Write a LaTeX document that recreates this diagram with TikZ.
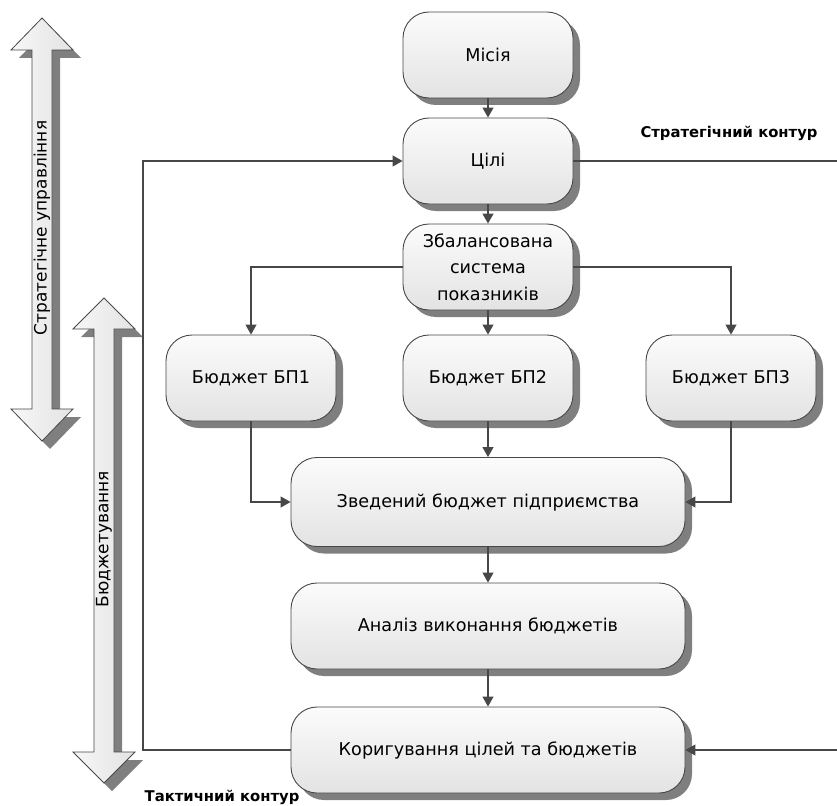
\documentclass[tikz,border=0pt]{standalone}
\usepackage{fontspec}
\setmainfont{DejaVu Sans}
\usetikzlibrary{arrows.meta,shadows}
\definecolor{lnc}{HTML}{474747}
\definecolor{shd}{HTML}{7F7F7F}
\tikzset{
  box/.style={rounded corners=26pt, draw=lnc, line width=0.9pt,
    top color=gray!3, bottom color=gray!22,
    drop shadow={shadow xshift=7pt, shadow yshift=-7pt, fill=shd, opacity=1},
    minimum width=170pt, minimum height=86pt, inner sep=0pt,
    align=center, font=\fontsize{17.6}{26.5}\selectfont},
  wbox/.style={box, minimum width=394pt},
  conn/.style={draw=lnc, line width=1.1pt},
  arr/.style={conn, -{Triangle[length=10pt,width=11pt]}},
  lbl/.style={font=\fontsize{14.8}{17}\selectfont\bfseries, inner sep=0pt},
  vtxt/.style={rotate=90, font=\fontsize{17}{19}\selectfont, inner sep=0pt},
  barrow/.style={draw=lnc, line width=0.8pt, left color=gray!6, right color=gray!22}
}
\begin{document}
\begin{tikzpicture}[x=1pt,y=-1pt]
\useasboundingbox (0,0) rectangle (837,805);
% block arrow shadows
\foreach \cx/\ta/\ha/\hb/\tb in {42/18/50/409/441, 104/298/329/752/783}{
  \fill[shd] (\cx+8,\ta+8) -- (\cx+39,\ha+8) -- (\cx+18,\ha+8) -- (\cx+18,\hb+8) -- (\cx+39,\hb+8) -- (\cx+8,\tb+8) -- (\cx-23,\hb+8) -- (\cx-2,\hb+8) -- (\cx-2,\ha+8) -- (\cx-23,\ha+8) -- cycle;
}
\path[barrow] (42,18) -- (73,50) -- (52,50) -- (52,409) -- (73,409) -- (42,441) -- (11,409) -- (32,409) -- (32,50) -- (11,50) -- cycle;
\node[vtxt] (su) at (42,228) {Стратегічне управління};
\path[barrow] (104,298) -- (135,329) -- (114,329) -- (114,752) -- (135,752) -- (104,783) -- (73,752) -- (94,752) -- (94,329) -- (73,329) -- cycle;
\node[vtxt] (bu) at (104,539) {Бюджетування};
% boxes
\node[box] (M) at (488,55) {Місія};
\node[box] (C) at (488,161) {Цілі};
\node[box] (Z) at (488,267) {Збалансована\\система\\показників};
\node[box] (B1) at (251,378) {Бюджет БП1};
\node[box] (B2) at (488,378) {Бюджет БП2};
\node[box] (B3) at (731,378) {Бюджет БП3};
\node[wbox, minimum height=89pt] (V) at (488,502) {Зведений бюджет підприємства};
\node[wbox] (A) at (488,626) {Аналіз виконання бюджетів};
\node[wbox] (K) at (488,750) {Коригування цілей та бюджетів};
% labels
\node[lbl] (ls) at (729,133) {Стратегічний контур};
\node[lbl] (lt) at (222,797) {Тактичний контур};
% helper coordinates
\coordinate (fl) at (143,400);
\coordinate (rr) at (837,400);
% connectors
\draw[arr] (M) -- (C);
\draw[arr] (C) -- (Z);
\draw[arr] (Z) -- (B2);
\draw[arr] (Z.west) -| (B1.north);
\draw[arr] (Z.east) -| (B3.north);
\draw[arr] (B1.south) |- (V.west);
\draw[arr] (B3.south) |- (V.east);
\draw[arr] (B2) -- (V);
\draw[arr] (V) -- (A);
\draw[arr] (A) -- (K);
\draw[arr] (K.west) -| (fl) |- (C.west);
\draw[conn] (C.east) -- (C.east -| rr);
\draw[arr] (K.east -| rr) -- (K.east);
\end{tikzpicture}
\end{document}
